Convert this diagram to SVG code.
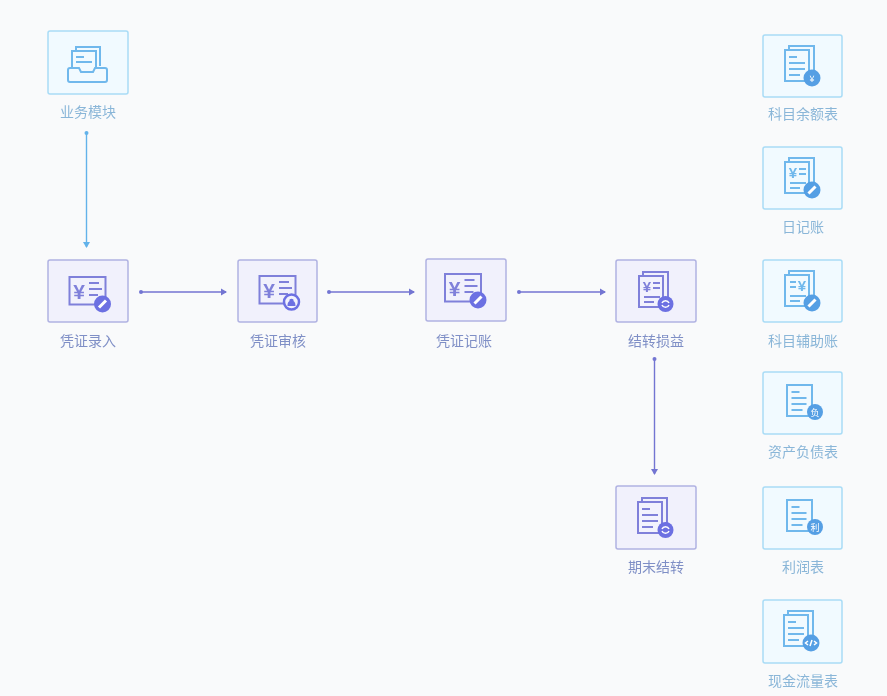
<svg xmlns="http://www.w3.org/2000/svg" width="887" height="696" viewBox="0 0 887 696">
<style>
.lbl{font-family:"Noto Sans CJK SC","Liberation Sans",sans-serif;font-size:14px;text-anchor:middle}
.b{color:#6fb8ec;--bg:#f1faff}
.p{color:#7f80da;--bg:#f2f2fd}
.b .box{fill:#f1faff;stroke:#a9dcf6}
.p .box{fill:#f1f1fc;stroke:#b0b2e2}
.box{stroke-width:1.5}
.b .lbl{fill:#8ab6d8}
.p .lbl{fill:#7f8fc6}
.ln{stroke:currentColor;fill:none;stroke-width:2}
.fillp{fill:var(--bg)}
.b .bd{fill:#559fe4}
.p .bd{fill:#6c70e2}
.yen{fill:currentColor;font-family:"Liberation Sans",sans-serif;font-weight:bold;text-anchor:middle}
.wt{fill:#fff;font-family:"Noto Sans CJK SC",sans-serif;text-anchor:middle;font-size:9px}
.mk{stroke:#fff;fill:none;stroke-width:1.500}
.pn{stroke:#fff;fill:none;stroke-width:3}
.con{fill:none;stroke-width:1.400}
</style>
<defs>
<filter id="soft" filterUnits="userSpaceOnUse" x="0" y="0" width="887" height="696"><feGaussianBlur stdDeviation="0.7"/></filter>
<marker id="ab" markerWidth="8" markerHeight="8" refX="6" refY="4" orient="auto" markerUnits="userSpaceOnUse"><path d="M1 .5L7 4L1 7.500z" fill="#62b2ea"/></marker>
<marker id="ap" markerWidth="8" markerHeight="8" refX="6" refY="4" orient="auto" markerUnits="userSpaceOnUse"><path d="M1 .5L7 4L1 7.500z" fill="#7375d2"/></marker>
<marker id="db" markerWidth="5" markerHeight="5" refX="2.500" refY="2.500" markerUnits="userSpaceOnUse"><circle cx="2.500" cy="2.500" r="2" fill="#62b2ea"/></marker>
<marker id="dp" markerWidth="5" markerHeight="5" refX="2.500" refY="2.500" markerUnits="userSpaceOnUse"><circle cx="2.500" cy="2.500" r="2" fill="#7375d2"/></marker>
<g id="ticket">
<rect class="ln" x="-18.500" y="-14" width="36" height="27.500"/>
<text class="yen" x="-9" y="7.500" font-size="21">¥</text>
<path class="ln" d="M1-8H11M1-2H14M1 4H10"/>
</g>
<g id="stack">
<path class="ln" d="M-13-15V-19H12V11"/>
<rect class="ln fillp" x="-17" y="-15" width="24" height="31"/>
</g>
<g id="lines"><path class="ln" d="M-13-8H-5M-13-2H3M-13 4H3M-13 10H-2"/></g>
<g id="single">
<rect class="ln" x="-15.500" y="-18" width="25" height="31"/>
<path class="ln" d="M-11-11H-3M-11-5H4M-11 1H4M-11 7H0"/>
</g>
<g id="pen"><path class="pn" d="M-3.500 3.500L3.500-3.500"/></g>
<g id="swap"><path class="mk" d="M-3.500-1A3.800 3.800 0 0 1 3.500-1M3.500 1A3.800 3.800 0 0 1-3.500 1"/></g>
</defs>
<rect width="887" height="696" fill="#f9fafb"/>
<g filter="url(#soft)">
<g id="connectors" class="con">
<path d="M86.500 133V247" stroke="#62b2ea" marker-start="url(#db)" marker-end="url(#ab)"/>
<path d="M141 292H226" stroke="#7375d2" marker-start="url(#dp)" marker-end="url(#ap)"/>
<path d="M329 292H414" stroke="#7375d2" marker-start="url(#dp)" marker-end="url(#ap)"/>
<path d="M519 292H605" stroke="#7375d2" marker-start="url(#dp)" marker-end="url(#ap)"/>
<path d="M654.500 359V474" stroke="#7375d2" marker-start="url(#dp)" marker-end="url(#ap)"/>
</g>

<g id="node-ywmk" class="b">
<rect class="box" x="48" y="31" width="80" height="63" rx="2"/>
<path class="ln" d="M72 68V51H96V68M76 51V47H100V66"/>
<path class="ln" d="M76 57H84M76 62H92"/>
<path class="ln" d="M70 68H79L81 72H93L95 68H105Q107 68 107 70V80Q107 82 105 82H70Q68 82 68 80V70Q68 68 70 68Z"/>
<text class="lbl" x="88" y="117">业务模块</text>
</g>

<g id="node-pzlr" class="p">
<rect class="box" x="48" y="260" width="80" height="62" rx="2"/>
<use href="#ticket" x="88" y="291"/>
<circle class="bd" cx="102.500" cy="304" r="8.500"/><use href="#pen" x="102.500" y="304"/>
<text class="lbl" x="88" y="346">凭证录入</text>
</g>

<g id="node-pzsh" class="p">
<rect class="box" x="238" y="260" width="79" height="62" rx="2"/>
<use href="#ticket" x="278" y="290"/>
<circle cx="291.500" cy="302" r="7.500" fill="#f2f2fd" stroke="#6c70e2" stroke-width="2.500"/>
<path d="M287.500 306C287.500 302 289 301.500 289.500 301C288.500 298 294.500 298 293.500 301C294 301.500 295.500 302 295.500 306Z" fill="#6c70e2"/>
<text class="lbl" x="278" y="346">凭证审核</text>
</g>

<g id="node-pzjz" class="p">
<rect class="box" x="426" y="259" width="80" height="62" rx="2"/>
<use href="#ticket" x="463.500" y="288"/>
<circle class="bd" cx="478" cy="300" r="8.500"/><use href="#pen" x="478" y="300"/>
<text class="lbl" x="464" y="346">凭证记账</text>
</g>

<g id="node-jzsy" class="p">
<rect class="box" x="616" y="260" width="80" height="62" rx="2"/>
<use href="#stack" x="656" y="291"/>
<text class="yen" x="647" y="292" font-size="15">¥</text>
<path class="ln" d="M653 283H660M653 288H660M644 297H660M644 302H654"/>
<circle class="bd" cx="665.500" cy="304" r="8"/><use href="#swap" x="665.500" y="304"/>
<text class="lbl" x="656" y="346">结转损益</text>
</g>

<g id="node-qmjz" class="p">
<rect class="box" x="616" y="486" width="80" height="63" rx="2"/>
<use href="#stack" x="655" y="517"/><use href="#lines" x="655" y="517"/>
<circle class="bd" cx="665.500" cy="530" r="8"/><use href="#swap" x="665.500" y="530"/>
<text class="lbl" x="656" y="572">期末结转</text>
</g>

<g id="node-kmyeb" class="b">
<rect class="box" x="763" y="35" width="79" height="62" rx="2"/>
<use href="#stack" x="802" y="65"/><use href="#lines" x="802" y="65"/>
<circle class="bd" cx="812" cy="78" r="8.500"/>
<text x="812" y="81.500" class="wt">¥</text>
<text class="lbl" x="803" y="119">科目余额表</text>
</g>

<g id="node-rjz" class="b">
<rect class="box" x="763" y="147" width="79" height="62" rx="2"/>
<use href="#stack" x="802" y="177"/>
<text class="yen" x="793" y="178" font-size="15">¥</text>
<path class="ln" d="M799 169H806M799 174H806M790 183H806M790 188H800"/>
<circle class="bd" cx="812" cy="190" r="8.500"/><use href="#pen" x="812" y="190"/>
<text class="lbl" x="803" y="232">日记账</text>
</g>

<g id="node-kmfzz" class="b">
<rect class="box" x="763" y="260" width="79" height="62" rx="2"/>
<use href="#stack" x="802" y="290"/>
<text class="yen" x="802" y="291" font-size="15">¥</text>
<path class="ln" d="M790 282H796M790 287H796M790 296H806M790 301H800"/>
<circle class="bd" cx="812" cy="303" r="8.500"/><use href="#pen" x="812" y="303"/>
<text class="lbl" x="803" y="346">科目辅助账</text>
</g>

<g id="node-zcfzb" class="b">
<rect class="box" x="763" y="372" width="79" height="62" rx="2"/>
<use href="#single" x="802.500" y="403"/>
<circle class="bd" cx="815" cy="412" r="8"/>
<text x="815" y="415.500" class="wt">负</text>
<text class="lbl" x="803" y="457">资产负债表</text>
</g>

<g id="node-lrb" class="b">
<rect class="box" x="763" y="487" width="79" height="62" rx="2"/>
<use href="#single" x="802.500" y="518"/>
<circle class="bd" cx="815" cy="527" r="8"/>
<text x="815" y="530.500" class="wt">利</text>
<text class="lbl" x="803" y="572">利润表</text>
</g>

<g id="node-xjllb" class="b">
<rect class="box" x="763" y="600" width="79" height="63" rx="2"/>
<use href="#stack" x="801" y="630"/><use href="#lines" x="801" y="630"/>
<circle class="bd" cx="811" cy="643" r="8.500"/>
<path class="mk" d="M808 641L805.500 643L808 645M814 641L816.500 643L814 645M812 640L810 646"/>
<text class="lbl" x="803" y="686">现金流量表</text>
</g>
</g>
</svg>
